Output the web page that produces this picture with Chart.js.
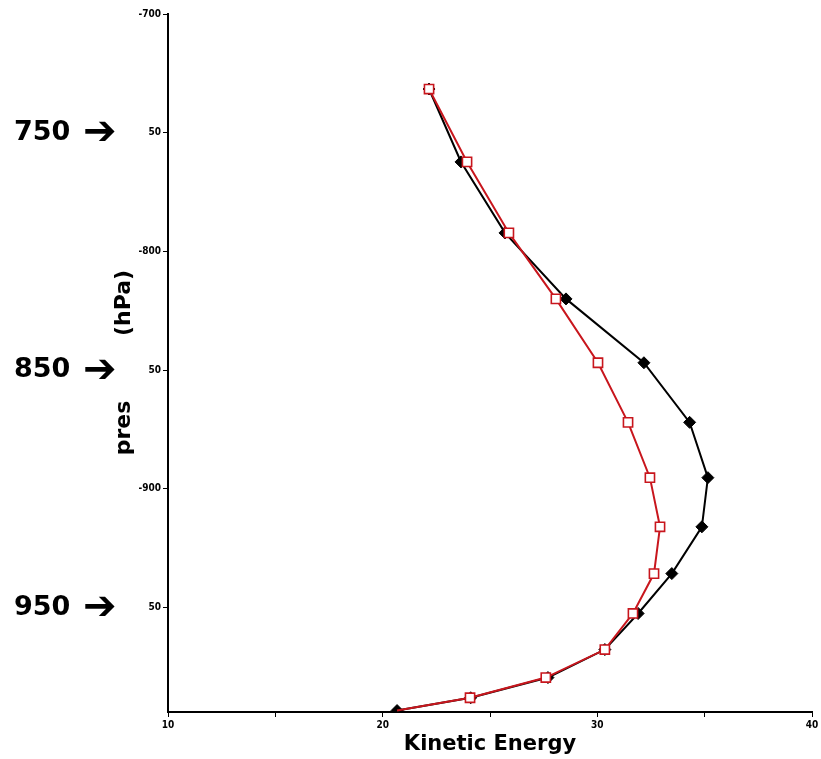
<!DOCTYPE html>
<html>
<head>
<meta charset="utf-8">
<script src="https://cdn.jsdelivr.net/npm/chart.js@4.4.0/dist/chart.umd.min.js"></script>
<style>
    html, body { margin: 0; padding: 0; background: #fff; }
    #wrap { width: 821px; height: 759px; }
</style>
</head>
<body>
<div id="wrap"><canvas id="chart" width="821" height="759"></canvas></div>
<script>
// Vertical profile of kinetic energy (two runs)
const pressureLevels = [731.6, 762.3, 792.2, 820, 846.9, 872, 895.3, 916, 935.7, 952.5, 967.7, 979.5, 988, 993.4];
const keBlack = [22.16, 23.65, 25.7, 28.54, 32.17, 34.3, 35.15, 34.87, 33.47, 31.9, 30.35, 27.7, 24.1, 20.67];
const keRed = [22.16, 23.93, 25.88, 28.07, 30.03, 31.43, 32.45, 32.92, 32.64, 31.66, 30.35, 27.6, 24.07, 20.67];

const xTicks = [10, 15, 20, 25, 30, 35, 40];
const xTickLabels = ['10', '', '20', '', '30', '', '40'];
const yTicks = [700, 750, 800, 850, 900, 950];
const yTickLabels = ['-700', '50', '-800', '50', '-900', '50'];

const noteLabels = ['750', '850', '950'];
const noteLevels = [750, 850, 950];

const tickFont = { family: '"Liberation Sans Narrow", "DejaVu Sans Condensed", Arial', size: 10, weight: 'bold' };

// Arrow notes on the left plus the split y title
const notesPlugin = {
    id: 'notes',
    afterDraw(chart) {
        const ctx = chart.ctx;
        const yScale = chart.scales.y;
        ctx.save();
        ctx.fillStyle = '#000';
        ctx.textBaseline = 'middle';

        ctx.font = 'bold 22px "DejaVu Sans"';
        ctx.textAlign = 'center';
        [['(hPa)', 303], ['pres', 428]].forEach(([txt, py]) => {
            ctx.save();
            ctx.translate(124, py);
            ctx.rotate(-Math.PI / 2);
            ctx.fillText(txt, 0, 0);
            ctx.restore();
        });

        ctx.textAlign = 'left';
        noteLabels.forEach((label, i) => {
            const py = yScale.getPixelForValue(noteLevels[i]);
            ctx.font = 'bold 27px "DejaVu Sans"';
            ctx.fillText(label, 14, py);
            ctx.font = 'bold 40px "DejaVu Sans"';
            ctx.fillText('\u2794', 83, py + 1);
        });
        ctx.restore();
    }
};

const ctx = document.getElementById('chart').getContext('2d');
new Chart(ctx, {
    type: 'scatter',
    data: {
        datasets: [
            {
                label: 'black',
                data: pressureLevels.map((p, i) => ({ x: keBlack[i], y: p })),
                showLine: true,
                borderColor: '#000',
                backgroundColor: '#000',
                borderWidth: 2,
                pointStyle: 'rectRot',
                pointRadius: 6,
                pointBorderWidth: 1,
                order: 1
            },
            {
                label: 'red',
                data: pressureLevels.map((p, i) => ({ x: keRed[i], y: p })),
                showLine: true,
                borderColor: '#c8161d',
                backgroundColor: '#fff',
                borderWidth: 2,
                pointStyle: 'rect',
                // last level is covered by the black marker in the reference
                pointRadius: pressureLevels.map((p, i) => (i === pressureLevels.length - 1 ? 0 : 6.5)),
                pointBorderWidth: 1.6,
                order: 0
            }
        ]
    },
    options: {
        responsive: false,
        devicePixelRatio: 1,
        animation: false,
        layout: { padding: { left: 0, right: 9, top: 14, bottom: 0 } },
        plugins: {
            legend: { display: false },
            tooltip: { enabled: false }
        },
        scales: {
            x: {
                type: 'linear',
                min: 10,
                max: 40,
                afterBuildTicks: scale => { scale.ticks = xTicks.map(v => ({ value: v })); },
                afterFit: scale => { scale.height = 47; },
                ticks: {
                    color: '#000',
                    font: tickFont,
                    padding: 2,
                    maxRotation: 0,
                    callback: (v) => xTickLabels[xTicks.indexOf(v)] ?? ''
                },
                grid: { drawOnChartArea: false, drawTicks: true, tickLength: 5, color: '#000', lineWidth: 1 },
                border: { color: '#000', width: 2 },
                title: {
                    display: true,
                    text: 'Kinetic Energy',
                    color: '#000',
                    font: { family: '"DejaVu Sans"', size: 21, weight: 'bold' },
                    padding: { top: 0, bottom: 2 }
                }
            },
            y: {
                type: 'linear',
                reverse: true,
                min: 700,
                max: 994,
                afterBuildTicks: scale => { scale.ticks = yTicks.map(v => ({ value: v })); },
                afterFit: scale => { scale.width = 168; },
                ticks: {
                    color: '#000',
                    font: tickFont,
                    padding: 2,
                    callback: (v) => yTickLabels[yTicks.indexOf(v)] ?? ''
                },
                grid: { drawOnChartArea: false, drawTicks: true, tickLength: 5, color: '#000', lineWidth: 1 },
                border: { color: '#000', width: 2 }
            }
        }
    },
    plugins: [notesPlugin]
});
</script>
</body>
</html>
